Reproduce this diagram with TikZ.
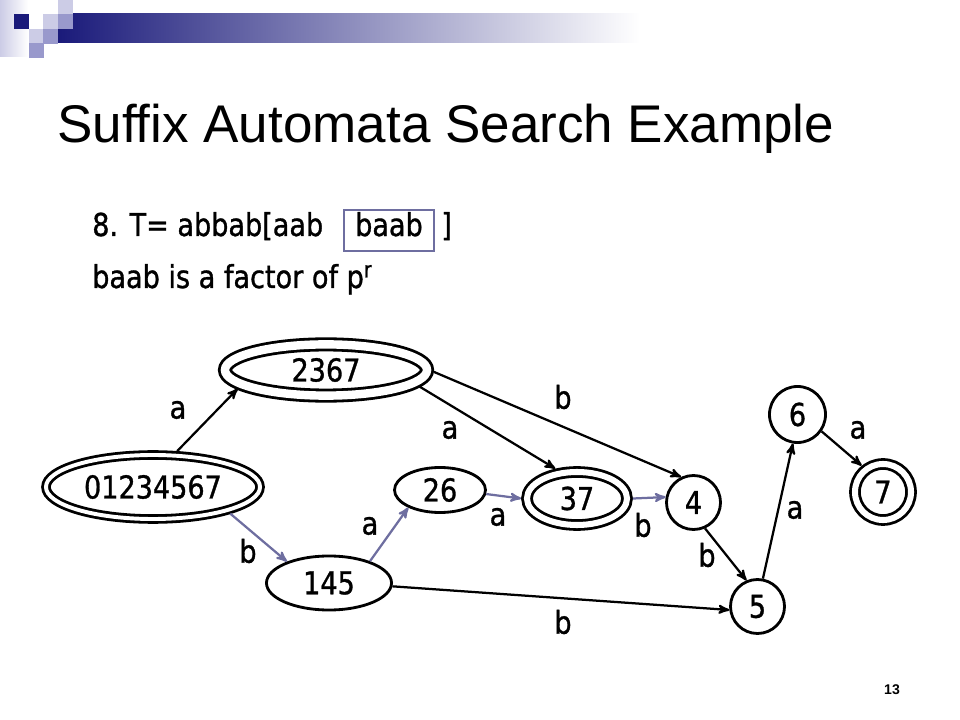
\documentclass[tikz,border=0pt]{standalone}
\usepackage{fontspec}
\newfontfamily\titlefont{Liberation Sans}
\newfontfamily\bodyfont[FakeStretch=0.86, FakeBold=1]{DejaVu Sans}
\usepackage{tikz}
\usetikzlibrary{arrows}
\usetikzlibrary{automata}
\usetikzlibrary{shapes.geometric}
\definecolor{barnavy}{RGB}{26,26,122}
\definecolor{barmid}{RGB}{153,153,204}
\definecolor{barlight}{RGB}{204,204,230}
\definecolor{scanblue}{RGB}{110,110,160}
\tikzset{> = stealth',
  every state/.style = {draw, line width = 2pt, inner sep = 0pt,
    font = \bodyfont\fontsize{22.4}{26}\selectfont},
  trans/.style = {->, line width = 1.6pt},
  scan/.style = {trans, scanblue},
  lbl/.style = {inner sep = 0pt, font = \bodyfont\fontsize{22.4}{26}\selectfont},
  txt/.style = {lbl, anchor = base west}}

\begin{document}
\begin{tikzpicture}[x = 0.025cm, y = -0.025cm]
  \useasboundingbox (0,0) rectangle (960,720);
  % header
  \shade [left color = barlight, right color = white] (0,0) rectangle (28,57);
  \shade [left color = barnavy, right color = white] (58,14) rectangle (640,43);
  \fill [barnavy] (14,14) rectangle ++(15,15);
  \foreach \x/\y in {43/14, 58/0, 29/29}
    \fill [barlight] (\x,\y) rectangle ++(15,15);
  \foreach \x/\y in {58/14, 43/29, 29/43}
    \fill [barmid] (\x,\y) rectangle ++(15,15);
  \node [anchor = base west, inner sep = 0pt,
    font = \titlefont\fontsize{37.7}{44}\selectfont] (title) at (57,143)
    {Suffix Automata Search Example};
  % text
  \node [txt] (line1) at (92,236) {8. T= abbab[aab};
  \node [lbl, draw = scanblue, line width = 1.4pt, minimum width = 2.25cm,
    minimum height = 1.025cm, text height = 17.1pt, text depth = 9.2pt]
    (factor) at (389,230.5) {baab};
  \node [txt] (close) at (441,236) {]};
  \node [txt] (line2) at (92,288) {baab is a factor of p\textsuperscript{r}};
  % nodes
  \node [state, accepting, ellipse, double distance = 2.8pt, outer sep = 3.4pt,
    minimum width = 5.35cm, minimum height = 1.6cm] (n0) at (153,487) {01234567};
  \node [state, accepting, ellipse, double distance = 6pt, outer sep = 5pt,
    minimum width = 5.05cm, minimum height = 1.28cm] (n2367) at (326,370) {2367};
  \node [state, ellipse, minimum width = 2.275cm, minimum height = 1.125cm]
    (n26) at (440,490) {26};
  \node [state, ellipse, minimum width = 3.125cm, minimum height = 1.35cm]
    (n145) at (329,583) {145};
  \node [state, accepting, ellipse, double distance = 4.3pt, outer sep = 4.2pt,
    minimum width = 2.5cm, minimum height = 1.325cm] (n37) at (577,498.5) {37};
  \node [state, minimum size = 1.35cm] (n4) at (693.5,502.5) {4};
  \node [state, minimum size = 1.35cm] (n5) at (757.5,606.5) {5};
  \node [state, minimum size = 1.4cm] (n6) at (797.5,414.5) {6};
  \node [state, accepting, double distance = 4.3pt, outer sep = 4.2pt,
    minimum size = 1.4cm] (n7) at (883,492) {7};
  % paths
  \draw [trans] (n0.56) -- (n2367.192);
  \draw [scan] (n0.341) -- (n145.153);
  \draw [trans] (n2367.350) -- (n37.126);
  \draw [trans] (n2367.359) -- (n4.116);
  \draw [scan] (n145.28) -- (n26.209);
  \draw [scan] (n26.355) -- (n37.180);
  \draw [scan] (n37.east) -- (n4.169);
  \draw [trans] (n4.294) -- (n5.113);
  \draw [trans] (n145.357) -- (n5.187);
  \draw [trans] (n5.79) -- (n6.261);
  \draw [trans] (n6.325) -- (n7.129);
  % labels
  \node [lbl] (l0a) at (178,410) {a};
  \node [lbl] (l0b) at (248,551) {b};
  \node [lbl] (l2367a) at (450,430) {a};
  \node [lbl] (l2367b) at (563,397) {b};
  \node [lbl] (l145a) at (370,526) {a};
  \node [lbl] (l26a) at (498,517) {a};
  \node [lbl] (l37b) at (643,525) {b};
  \node [lbl] (l4b) at (707,555) {b};
  \node [lbl] (l145b) at (563,622) {b};
  \node [lbl] (l5a) at (795,510) {a};
  \node [lbl] (l6a) at (858,430) {a};
  \node [font = \titlefont\bfseries\fontsize{10}{12}\selectfont] (page) at (892,690) {13};
\end{tikzpicture}
\end{document}
